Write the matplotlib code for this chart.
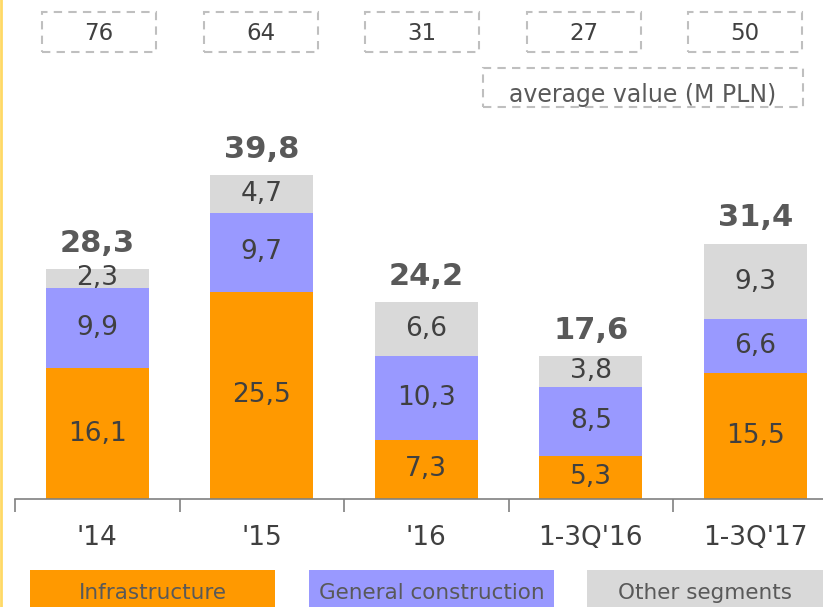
import matplotlib.pyplot as plt
from matplotlib.patches import Rectangle
from matplotlib.lines import Line2D

categories = ["'14", "'15", "'16", "1-3Q'16", "1-3Q'17"]
infrastructure = [16.1, 25.5, 7.3, 5.3, 15.5]
general = [9.9, 9.7, 10.3, 8.5, 6.6]
other = [2.3, 4.7, 6.6, 3.8, 9.3]
totals = [28.3, 39.8, 24.2, 17.6, 31.4]
avg_value = [76, 64, 31, 27, 50]

series_names = ["Infrastructure", "General construction", "Other segments"]
colors = ["#FF9900", "#9999FF", "#D9D9D9"]
text_dark = "#404040"
text_total = "#595959"

W, H = 823, 607
fig = plt.figure(figsize=(W / 100, H / 100), dpi=100)
plt.rcParams['font.family'] = ['DejaVu Sans']

# axes: category step 164.5 px, baseline at y=499 px, 8.13 px per unit
step = 164.5
ppu = 8.13
ymax = 60
ax = fig.add_axes([15 / W, (H - 499) / H, 5 * step / W, ymax * ppu / H])
ax.set_xlim(-0.5, 4.5)
ax.set_ylim(0, ymax)

x = list(range(len(categories)))
bw = 103 / step
bottom = [0] * len(x)
for vals, c in zip([infrastructure, general, other], colors):
    ax.bar(x, vals, bw, bottom=bottom, color=c, linewidth=0)
    for i, v in enumerate(vals):
        ax.text(i, bottom[i] + v / 2, f"{v:.1f}".replace('.', ','),
                ha='center', va='center', fontsize=19, color=text_dark)
    bottom = [b + v for b, v in zip(bottom, vals)]

for i, t in enumerate(totals):
    ax.text(i, t + 1.4, f"{t:.1f}".replace('.', ','), ha='center', va='bottom',
            fontsize=22, fontweight='bold', color=text_total)

for s in ['left', 'top', 'right']:
    ax.spines[s].set_visible(False)
ax.spines['bottom'].set_color('#808080')
ax.spines['bottom'].set_linewidth(1.2)
ax.set_yticks([])
ax.set_xticks([i - 0.5 for i in range(6)])
ax.set_xticklabels([])
ax.tick_params(axis='x', which='major', length=9, color='#808080', width=1.2)
ax.set_xticks(x, minor=True)
ax.set_xticklabels(categories, minor=True, fontsize=19, color=text_dark)
ax.tick_params(axis='x', which='minor', length=0, pad=19)

# average value boxes along the top
for i, v in enumerate(avg_value):
    x0 = 42 + 161.5 * i
    r = Rectangle((x0 / W, (H - 52) / H), 114 / W, 40 / H, fill=False,
                  edgecolor='#BFBFBF', linestyle=(0, (4, 3)), linewidth=1.5)
    fig.add_artist(r)
    fig.text((x0 + 57) / W, (H - 34) / H, str(v), ha='center', va='center',
             fontsize=16.5, color=text_dark)

r = Rectangle((483 / W, (H - 107) / H), 320 / W, 39 / H, fill=False,
              edgecolor='#BFBFBF', linestyle=(0, (4, 3)), linewidth=1.5)
fig.add_artist(r)
fig.text(643 / W, (H - 95) / H, "average value (M PLN)", ha='center', va='center',
         fontsize=17, color='#595959')

# legend blocks at the bottom
leg_x = [(30, 275), (309, 554), (587, 823)]
for (x0, x1), name, c in zip(leg_x, series_names, colors):
    fig.add_artist(Rectangle((x0 / W, 0), (x1 - x0) / W, 37 / H, color=c, linewidth=0))
    fig.text((x0 + x1) / 2 / W, (H - 593) / H, name, ha='center', va='center',
             fontsize=15.5, color='#595959')

# thin yellow line on the left edge
fig.add_artist(Line2D([1 / W, 1 / W], [0, 1], color='#FFD966', linewidth=2))

fig.savefig('out.png', dpi=100)
